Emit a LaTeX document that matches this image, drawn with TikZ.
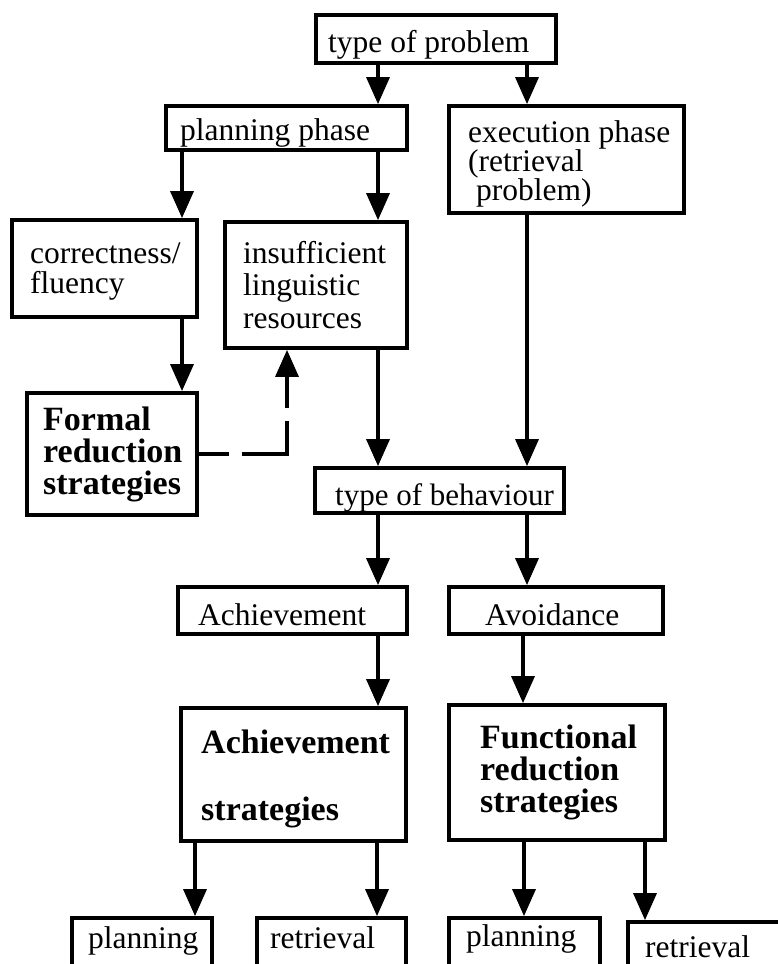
\documentclass[tikz,border=0pt]{standalone}
\usepackage{fontspec}
\setmainfont{Liberation Serif}
\usetikzlibrary{arrows.meta}
% left-aligned stack of lines whose baseline is that of the first line
\newcommand{\linestack}[1]{\vtop{\halign{##\hfil\cr#1\crcr}}}
\begin{document}
\begin{tikzpicture}[x=1pt, y=-1pt,
  box/.style={draw, line width=3.8pt, inner sep=0pt, rectangle},
  sz/.style 2 args={minimum width=#1pt, minimum height=#2pt},
  txt/.style={anchor=base west, inner sep=0pt, font=\fontsize{31.5}{30}\selectfont},
  btxt/.style={anchor=base west, inner sep=0pt, font=\fontsize{34}{32}\selectfont\bfseries},
  arr/.style={line width=3.5pt, -{Triangle[width=23pt,length=27pt]}},
  dasharr/.style={arr, dash pattern=on 30pt off 13pt on 78pt off 13pt on 60pt off 13pt}]
\useasboundingbox (0,0) rectangle (778,964);
\fill[white] (0,0) rectangle (778,964);
\clip (0,0) rectangle (778,964);

% boxes
\node[box, sz={240}{48}]  (TP)  at (436,39)     {};
\node[box, sz={241}{44}]  (PP)  at (286.5,128)  {};
\node[box, sz={235}{107}] (EP)  at (566.5,159.5) {};
\node[box, sz={185}{97}]  (CF)  at (104.5,268.5) {};
\node[box, sz={182}{126}] (ILR) at (316,285)    {};
\node[box, sz={170}{122}] (FRS) at (112,454)    {};
\node[box, sz={249}{45}]  (TB)  at (439.5,490.5) {};
\node[box, sz={229}{47}]  (ACH) at (292.5,610.5) {};
\node[box, sz={214}{47}]  (AVO) at (556,610.5)  {};
\node[box, sz={225}{133}] (AS)  at (293.5,774.5) {};
\node[box, sz={216}{135}] (FS)  at (557,772.5)  {};
\node[box, sz={140}{82}]  (P1)  at (142,959)    {};
\node[box, sz={149}{82}]  (R1)  at (331.5,959)  {};
\node[box, sz={151}{82}]  (P2)  at (524.5,959)  {};
\node[box, sz={172}{78}]  (R2)  at (714,961)    {};

% labels
\node[txt] (tTP) at (328,52) {type of problem};
\node[txt] (tPP) at (180,140) {planning phase};
\node[txt, font=\fontsize{31.5}{29}\selectfont] (tEP) at (468,142)
  {\linestack{execution phase\cr(retrieval\cr\ problem)}};
\node[txt] (tCF) at (30,263) {\linestack{correctness/\cr fluency}};
\node[txt, font=\fontsize{31.5}{32.5}\selectfont] (tILR) at (243,263)
  {\linestack{insufficient\cr linguistic\cr resources}};
\node[btxt] (tFRS) at (43,430)
  {\linestack{Formal\cr reduction\cr strategies}};
\node[txt, font=\fontsize{31}{30}\selectfont] (tTB) at (335,505) {type of behaviour};
\node[txt] (tACH) at (198,625) {Achievement};
\node[txt] (tAVO) at (485,625) {Avoidance};
\node[btxt, font=\fontsize{34}{67}\selectfont\bfseries] (tAS) at (201,753)
  {\linestack{Achievement\cr strategies}};
\node[btxt] (tFS) at (480,748) {\linestack{Functional\cr reduction\cr strategies}};
\node[txt] (tP1) at (88,948) {planning};
\node[txt] (tR1) at (270,948) {retrieval};
\node[txt] (tP2) at (466,946) {planning};
\node[txt] (tR2) at (645,957) {retrieval};

% connector columns
\coordinate (cL)  at (378,0);
\coordinate (cR)  at (527,0);
\coordinate (cR2) at (523,0);
\coordinate (cCF) at (182,0);
\coordinate (cD)  at (287,0);
\coordinate (cP1) at (195,0);
\coordinate (cR1) at (377,0);
\coordinate (cP2) at (524,0);
\coordinate (cRb) at (645,0);

% connectors
\draw[arr] (TP.south -| cL)  -- (PP.north -| cL);
\draw[arr] (TP.south -| cR)  -- (EP.north -| cR);
\draw[arr] (PP.south -| cCF) -- (CF.north -| cCF);
\draw[arr] (PP.south -| cL)  -- (ILR.north -| cL);
\draw[arr] (CF.south -| cCF) -- (FRS.north -| cCF);
\draw[arr] (ILR.south -| cL) -- (TB.north -| cL);
\draw[arr] (EP.south -| cR)  -- (TB.north -| cR);
\draw[arr] (TB.south -| cL)  -- (ACH.north -| cL);
\draw[arr] (TB.south -| cR)  -- (AVO.north -| cR);
\draw[arr] (ACH.south -| cL) -- (AS.north -| cL);
\draw[arr] (AVO.south -| cR2) -- (FS.north -| cR2);
\draw[arr] (AS.south -| cP1) -- (P1.north -| cP1);
\draw[arr] (AS.south -| cR1) -- (R1.north -| cR1);
\draw[arr] (FS.south -| cP2) -- (P2.north -| cP2);
\draw[arr] (FS.south -| cRb) -- (R2.north -| cRb);
\draw[dasharr] (FRS.east) -| (ILR.south -| cD);
\end{tikzpicture}
\end{document}
